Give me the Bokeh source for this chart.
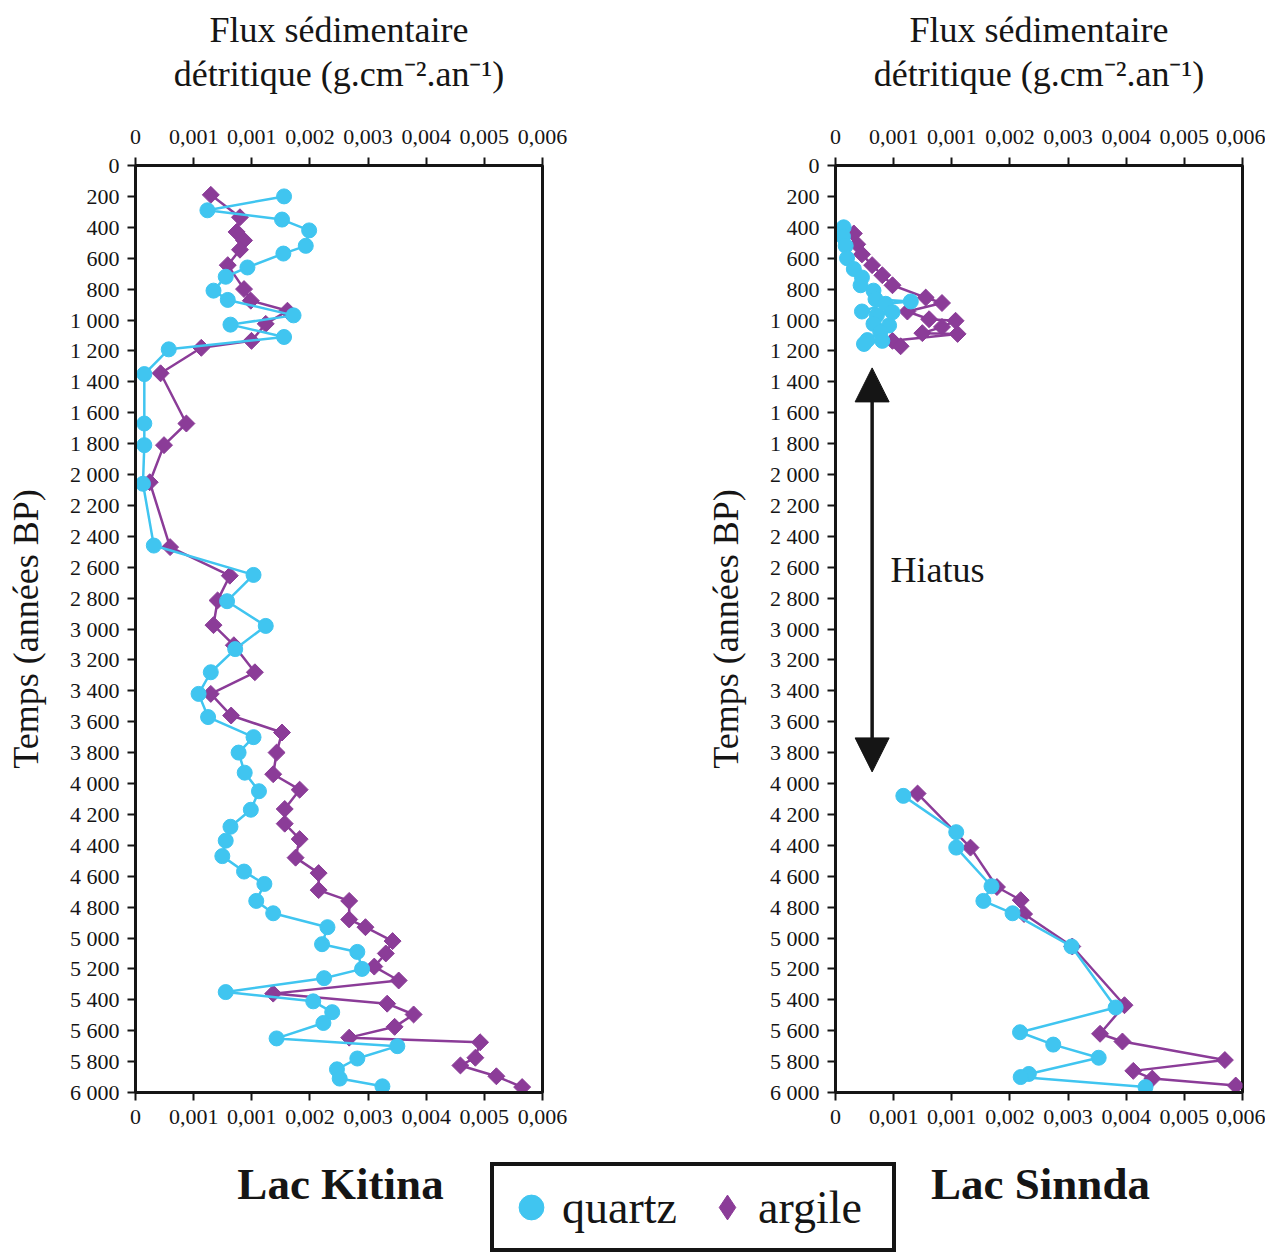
import numpy as np
from bokeh.plotting import figure
from bokeh.models import (Range1d, FixedTicker, LinearAxis, CustomJSTickFormatter,
                          Arrow, NormalHead, Label, Legend, LegendItem, ColumnDataSource)
from bokeh.layouts import column, row
from bokeh.embed import file_html
from bokeh.resources import INLINE

# ---------------- data ----------------
# Lac Kitina
kitina_quartz_age = [200, 290, 350, 420, 520, 570, 660, 720, 810, 870, 970, 1030, 1110, 1190,
                     1350, 1670, 1810, 2060, 2460, 2650, 2820, 2980, 3130, 3280, 3420, 3570,
                     3700, 3800, 3930, 4050, 4170, 4280, 4370, 4470, 4570, 4650, 4760, 4840,
                     4930, 5040, 5090, 5200, 5260, 5350, 5410, 5480, 5550, 5650, 5700, 5780,
                     5850, 5910, 5960]
kitina_quartz_flux = [0.00219, 0.00106, 0.00216, 0.00256, 0.00251, 0.00218, 0.00165, 0.00133,
                      0.00115, 0.00136, 0.00233, 0.00140, 0.00219, 0.00049, 0.00013, 0.00013,
                      0.00013, 0.00011, 0.00027, 0.00174, 0.00135, 0.00192, 0.00147, 0.00111,
                      0.00093, 0.00107, 0.00174, 0.00152, 0.00161, 0.00182, 0.00170, 0.00140,
                      0.00133, 0.00128, 0.00160, 0.00190, 0.00178, 0.00203, 0.00283, 0.00275,
                      0.00327, 0.00334, 0.00278, 0.00133, 0.00262, 0.00290, 0.00277, 0.00208,
                      0.00386, 0.00327, 0.00297, 0.00301, 0.00364]
kitina_argile_age = [190, 335, 430, 485, 545, 645, 800, 875, 940, 1025, 1135, 1180, 1345, 1670,
                     1810, 2050, 2470, 2655, 2815, 2975, 3105, 3280, 3420, 3560, 3670, 3800,
                     3940, 4040, 4165, 4260, 4360, 4480, 4580, 4690, 4760, 4880, 4930, 5020,
                     5100, 5185, 5275, 5360, 5425, 5495, 5575, 5645, 5675, 5775, 5825, 5895,
                     5965]
kitina_argile_flux = [0.00111, 0.00154, 0.00149, 0.00160, 0.00154, 0.00136, 0.00160, 0.00170,
                      0.00224, 0.00192, 0.00171, 0.00097, 0.00037, 0.00075, 0.00042, 0.00021,
                      0.00051, 0.00139, 0.00121, 0.00115, 0.00145, 0.00176, 0.00111, 0.00141,
                      0.00216, 0.00208, 0.00203, 0.00242, 0.00220, 0.00220, 0.00242, 0.00236,
                      0.00270, 0.00270, 0.00315, 0.00315, 0.00339, 0.00379, 0.00369, 0.00352,
                      0.00388, 0.00203, 0.00371, 0.00410, 0.00382, 0.00315, 0.00508, 0.00501,
                      0.00479, 0.00532, 0.00570]

# Lac Sinnda
sinnda_quartz_age = [400, 460, 520, 600, 670, 725, 775, 810, 865, 880, 895, 945, 950, 970,
                     1025, 1035, 1080, 1130, 1135, 1155,
                     4080, 4315, 4415, 4665, 4760, 4840, 5055, 5450, 5610, 5690, 5775, 5880,
                     5900, 5965]
sinnda_quartz_flux = [0.00012, 0.00011, 0.00015, 0.00017, 0.00027, 0.00039, 0.00037, 0.00056,
                      0.00059, 0.00111, 0.00074, 0.00039, 0.00084, 0.00061, 0.00056, 0.00079,
                      0.00066, 0.00047, 0.00069, 0.00042,
                      0.00100, 0.00178, 0.00178, 0.00230, 0.00218, 0.00261, 0.00348, 0.00413,
                      0.00272, 0.00321, 0.00388, 0.00285, 0.00273, 0.00457]
sinnda_argile_age = [440, 510, 575, 645, 710, 775, 855, 890, 945, 995, 1005, 1045, 1085, 1090,
                     1135, 1170,
                     4065, 4415, 4670, 4755, 4845, 5055, 5435, 5620, 5670, 5790, 5860, 5910,
                     5955]
sinnda_argile_flux = [0.00027, 0.00032, 0.00039, 0.00054, 0.00069, 0.00084, 0.00133, 0.00157,
                      0.00106, 0.00138, 0.00177, 0.00157, 0.00128, 0.00180, 0.00084, 0.00096,
                      0.00121, 0.00199, 0.00238, 0.00273, 0.00278, 0.00349, 0.00426, 0.00390,
                      0.00423, 0.00574, 0.00439, 0.00467, 0.00590]

hiatus_start, hiatus_end = 1310, 3925
hiatus_x = 0.00054

x_tick_labels = ["0", "0,001", "0,001", "0,002", "0,003", "0,004", "0,005", "0,006"]
x_ticks = [round(i * 0.006 / 7, 12) for i in range(8)]
y_ticks = list(range(0, 6001, 200))

QC = "#40C5F0"
AC = "#8B3C98"
INK = "#151515"
FONT = "Liberation Serif"

def with_gaps(ages, vals, gap=1500):
    xs, ys = [], []
    for i, (a, v) in enumerate(zip(ages, vals)):
        if i > 0 and a - ages[i - 1] > gap:
            xs.append(np.nan); ys.append(np.nan)
        xs.append(v); ys.append(a)
    return xs, ys

def style_axis(ax):
    ax.axis_line_width = 3
    ax.axis_line_color = INK
    ax.major_tick_line_width = 2
    ax.major_tick_line_color = INK
    ax.major_tick_out = 8
    ax.major_tick_in = 0
    ax.minor_tick_line_color = None
    ax.major_label_text_font = FONT
    ax.major_label_text_font_size = "22px"
    ax.major_label_text_color = INK
    ax.major_label_standoff = 5
    ax.axis_label_text_font = FONT
    ax.axis_label_text_font_style = "normal"
    ax.axis_label_text_font_size = "36px"
    ax.axis_label_text_color = INK

def make_panel(q_age, q_flux, a_age, a_flux, width, left, right):
    p = figure(width=width, height=1138, x_range=Range1d(0, 0.006), y_range=Range1d(6000, 0),
               x_axis_location="above", output_backend="svg", toolbar_location=None,
               min_border_left=left, min_border_right=right, min_border_top=165,
               min_border_bottom=46)
    p.xgrid.visible = False
    p.ygrid.visible = False
    p.outline_line_color = INK
    p.outline_line_width = 3
    p.background_fill_color = "white"
    p.border_fill_color = "white"

    top = p.xaxis[0]
    top.ticker = FixedTicker(ticks=x_ticks)
    top.formatter = CustomJSTickFormatter(args=dict(labels=x_tick_labels),
                                          code="return labels[index];")
    top.axis_label = "Flux sédimentaire\ndétritique (g.cm\u207b\u00b2.an\u207b\u00b9)"
    style_axis(top)
    top.major_label_standoff = 14
    top.axis_label_standoff = 33
    top.axis_label_text_line_height = 1.1
    bottom = LinearAxis(ticker=FixedTicker(ticks=x_ticks),
                        formatter=CustomJSTickFormatter(args=dict(labels=x_tick_labels),
                                                        code="return labels[index];"))
    style_axis(bottom)
    bottom.major_label_standoff = 9
    p.add_layout(bottom, "below")

    yax = p.yaxis[0]
    yax.ticker = FixedTicker(ticks=y_ticks)
    yax.formatter = CustomJSTickFormatter(code="""
        const t = Math.round(tick);
        if (t >= 1000) { return Math.floor(t/1000) + ' ' + String(t % 1000).padStart(3, '0'); }
        return String(t);""")
    yax.axis_label = "Temps (années BP)"
    style_axis(yax)
    yax.major_label_standoff = 8
    yax.axis_label_standoff = 21

    ax_, ay_ = with_gaps(a_age, a_flux)
    p.line(ax_, ay_, line_color=AC, line_width=2.5)
    p.scatter(a_flux, a_age, marker="square", angle=np.pi / 4, size=12,
              fill_color=AC, line_color=AC)
    qx_, qy_ = with_gaps(q_age, q_flux)
    p.line(qx_, qy_, line_color=QC, line_width=2.5)
    p.scatter(q_flux, q_age, marker="circle", size=15, fill_color=QC, line_color=QC)
    return p

p1 = make_panel(kitina_quartz_age, kitina_quartz_flux, kitina_argile_age, kitina_argile_flux,
                636, 135, 94)
p2 = make_panel(sinnda_quartz_age, sinnda_quartz_flux, sinnda_argile_age, sinnda_argile_flux,
                629, 199, 23)

head = dict(size=34, fill_color=INK, line_color=INK)
p2.add_layout(Arrow(start=NormalHead(**head), end=NormalHead(**head),
                    x_start=hiatus_x, y_start=hiatus_start, x_end=hiatus_x, y_end=hiatus_end,
                    line_color=INK, line_width=3.5))
p2.add_layout(Label(x=hiatus_x + 0.00027, y=(hiatus_start + hiatus_end) / 2, text="Hiatus",
                    text_font=FONT, text_font_size="36px", text_baseline="middle",
                    text_color=INK))

# bottom strip: lake names and legend
W3, H3 = 1265, 114
p3 = figure(width=W3, height=H3, x_range=Range1d(0, W3), y_range=Range1d(H3, 0),
            x_axis_type=None, y_axis_type=None, output_backend="svg", toolbar_location=None,
            min_border=0)
p3.outline_line_color = None
p3.xgrid.visible = False
p3.ygrid.visible = False
for xx, name in [(340, "Lac Kitina"), (1040, "Lac Sinnda")]:
    p3.add_layout(Label(x=xx, y=45, text=name, text_align="center", text_baseline="middle",
                        text_font=FONT, text_font_style="bold", text_font_size="45px",
                        text_color=INK))
# legend keys: the series themselves, whose (age) values all fall outside this strip's range
q_src = ColumnDataSource(dict(x=kitina_quartz_flux, y=kitina_quartz_age))
a_src = ColumnDataSource(dict(x=kitina_argile_flux, y=kitina_argile_age))
rq = p3.scatter("x", "y", source=q_src, marker="circle", size=15,
                fill_color=QC, line_color=QC)
ra = p3.scatter("x", "y", source=a_src, marker="diamond", size=17,
                fill_color=AC, line_color=AC)
legend = Legend(items=[LegendItem(label="quartz", renderers=[rq]),
                       LegendItem(label="argile", renderers=[ra])],
                orientation="horizontal", location=(490, 0), glyph_width=62, glyph_height=70,
                label_standoff=0, spacing=6, padding=6, margin=0, label_width=128,
                label_text_font=FONT, label_text_font_size="46px", label_text_color=INK,
                border_line_color=INK, border_line_width=4, border_line_alpha=1.0,
                background_fill_color="white", background_fill_alpha=1.0)
p3.add_layout(legend, "center")

layout = column(row(p1, p2), p3)
open("out.html", "w").write(file_html(layout, INLINE))
